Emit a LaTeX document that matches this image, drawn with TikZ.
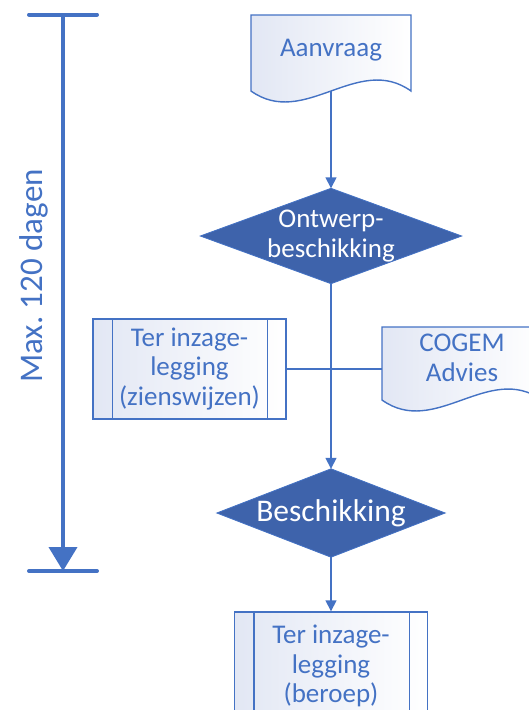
\documentclass[tikz,border=0pt]{standalone}
\usepackage{fontspec}
\setmainfont{Carlito}
\usetikzlibrary{arrows.meta,calc}
\definecolor{lineblue}{RGB}{68,114,196}
\definecolor{diafill}{RGB}{62,99,171}
\definecolor{lightfill}{RGB}{226,231,244}
\pgfdeclarelayer{back}
\pgfdeclarelayer{shapes}
\pgfsetlayers{back,shapes,main}
\begin{document}
\begin{tikzpicture}[x=1pt,y=-1pt,
  conn/.style={draw=lineblue, line width=1.5pt},
  arr/.style={-{Triangle[width=11pt,length=11pt]}},
  txt/.style={text=lineblue, align=center, inner sep=0pt},
  boxfont/.style={font=\fontsize{27}{29.5}\selectfont},
  lightshape/.style={draw=lineblue, line width=1.4pt, left color=lightfill, right color=white},
  diaframe/.style={draw=none, inner sep=0pt, text=white, align=center},
  diashape/.style={draw=lineblue, line width=0.8pt, fill=diafill},
  procbox/.style={lightshape, minimum width=193pt, txt, boxfont},
  timeline/.style={draw=lineblue, line width=4pt},
]
\useasboundingbox (0,0) rectangle (529,710);
\clip (0,0) rectangle (529,710);

% timeline
\coordinate (ttop) at (63,14.5);
\coordinate (tbot) at (63,571);
\draw[timeline, line cap=round] ($(ttop)+(-34,0)$) -- ($(ttop)+(34,0)$);
\draw[timeline, line cap=round] ($(tbot)+(-34,0)$) -- ($(tbot)+(34,0)$);
\draw[timeline, -{Triangle[width=28pt,length=24pt]}] (ttop) -- (tbot);
\node[txt, rotate=90, font=\fontsize{33}{36}\selectfont] (maxlbl) at (34,276) {Max.\ 120 dagen};

% text nodes
\node[txt, boxfont] (aanvraag) at (331,50) {Aanvraag};
\node[diaframe, minimum width=261pt, minimum height=95pt, boxfont] (ontwerp) at (331,236) {Ontwerp-\\beschikking};
\node[procbox, minimum height=100pt] (lbox) at (189.5,369) {Ter inzage-\\legging\\(zienswijzen)};
\node[txt, boxfont] (cogem) at (462,358) {COGEM\\Advies};
\node[diaframe, minimum width=228pt, minimum height=88pt, font=\fontsize{31.5}{34}\selectfont] (besch) at (331,513) {Beschikking};
\node[procbox, minimum height=108pt] (bbox) at (331,666) {Ter inzage-\\legging\\(beroep)};

% inner lines of the process boxes
\foreach \b in {lbox,bbox}{
  \draw[lineblue, line width=1.4pt] ($(\b.north west)+(20,0)$) -- ($(\b.south west)+(20,0)$);
  \draw[lineblue, line width=1.4pt] ($(\b.north east)+(-19,0)$) -- ($(\b.south east)+(-19,0)$);
}

% shapes
\begin{pgfonlayer}{shapes}
  \path[lightshape] (251,15) -- (411,15) -- (411,91)
     .. controls (357.7,53) and (304.3,129) .. (251,91) -- cycle;
  \path[lightshape] (382,327) -- (542,327) -- (542,400)
     .. controls (488.7,362) and (435.3,438) .. (382,400) -- cycle;
  \path[diashape] (ontwerp.north) -- (ontwerp.east) -- (ontwerp.south) -- (ontwerp.west) -- cycle;
  \path[diashape] (besch.north) -- (besch.east) -- (besch.south) -- (besch.west) -- cycle;
\end{pgfonlayer}

% connectors
\begin{pgfonlayer}{back}
  \draw[conn, arr] (aanvraag) -- (ontwerp.north);
  \draw[conn, arr] (ontwerp.south) -- (besch.north);
  \draw[conn, arr] (besch.south) -- (bbox.north);
  \draw[conn] (lbox.east) -- (lbox.east -| cogem.west);
\end{pgfonlayer}
\end{tikzpicture}
\end{document}
